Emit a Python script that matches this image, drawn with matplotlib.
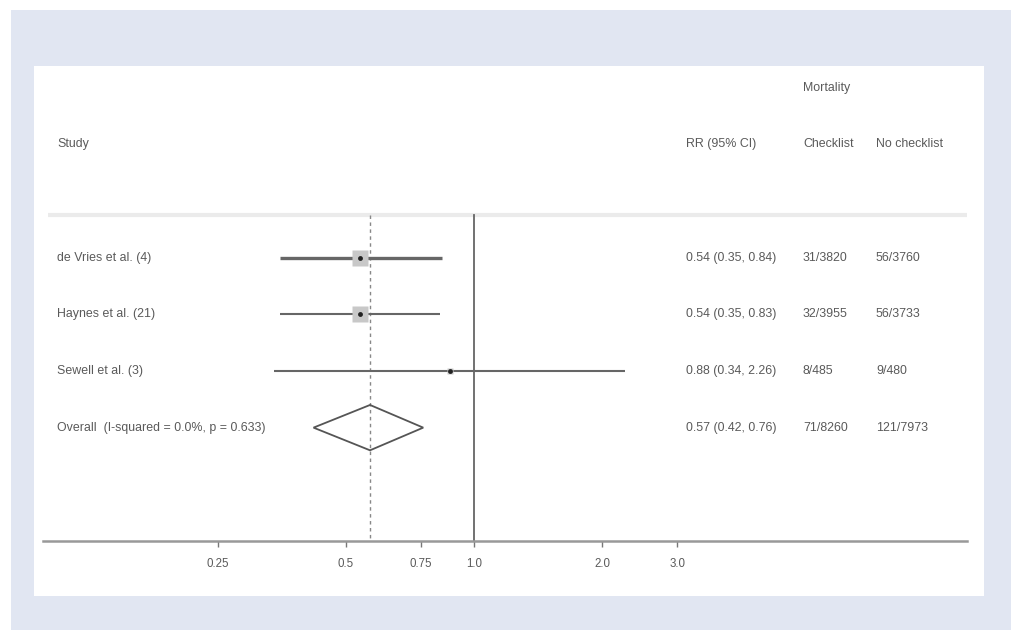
import matplotlib.pyplot as plt
from matplotlib.patches import Polygon, Rectangle

plt.rcParams['font.family'] = ['Liberation Sans', 'DejaVu Sans']

# data
studies = ['de Vries et al. (4)', 'Haynes et al. (21)', 'Sewell et al. (3)']
rr = [0.54, 0.54, 0.88]
lo = [0.35, 0.35, 0.34]
hi = [0.84, 0.83, 2.26]
weights = [46.5, 45.9, 7.6]
checklist = ['31/3820', '32/3955', '8/485']
no_checklist = ['56/3760', '56/3733', '9/480']

overall_label = 'Overall  (I-squared = 0.0%, p = 0.633)'
overall_rr, overall_lo, overall_hi = 0.57, 0.42, 0.76
overall_checklist = '71/8260'
overall_no_checklist = '121/7973'

ticks = [0.25, 0.5, 0.75, 1.0, 2.0, 3.0]
tick_labels = ['0.25', '0.5', '0.75', '1.0', '2.0', '3.0']

W, H = 1011, 630
fig = plt.figure(figsize=(W / 100, H / 100), dpi=100)
fig.patch.set_facecolor('white')
# light blue frame + white panel (like the stata graph region)
fig.patches.append(Rectangle((11 / W, 0), 1 - 11 / W, 1 - 10 / H, transform=fig.transFigure,
                             facecolor='#e1e6f2', edgecolor='none', zorder=-2))
fig.patches.append(Rectangle((34 / W, 34 / H), 950 / W, 530 / H, transform=fig.transFigure,
                             facecolor='white', edgecolor='none', zorder=-1))

ax = fig.add_axes([43 / W, 89 / H, 924 / W, 475 / H])
ax.set_facecolor('none')
ax.set_xscale('log')
ax.set_xlim(0.0973, 14.37)
ax.set_ylim(5, -3.38)

txt = '#5a5a5a'
fs = 8.9
col_study, col_rr, col_chk, col_nochk = 0.0152, 0.6959, 0.8225, 0.9015
tr = ax.get_yaxis_transform()  # x in axes fraction, y in data

# headers
ax.text(col_chk, -3, 'Mortality', transform=tr, fontsize=fs, color=txt, va='center')
ax.text(col_study, -2, 'Study', transform=tr, fontsize=fs, color=txt, va='center')
ax.text(col_rr, -2, 'RR (95% CI)', transform=tr, fontsize=fs, color=txt, va='center')
ax.text(col_chk, -2, 'Checklist', transform=tr, fontsize=fs, color=txt, va='center')
ax.text(col_nochk, -2, 'No checklist', transform=tr, fontsize=fs, color=txt, va='center')
ax.plot([0.005, 1], [-0.75, -0.75], transform=tr, color='#ebebeb', lw=3, solid_capstyle='butt')

# reference lines
ax.plot([1, 1], [-0.75, 5], color='#666666', lw=1.3)
ax.plot([overall_rr, overall_rr], [-0.75, 5], color='#888888', lw=1, dashes=(2.5, 2.5))

for i, name in enumerate(studies):
    lw = 2.4 if i == 0 else 1.5
    ax.plot([lo[i], hi[i]], [i, i], color='#666666', lw=lw, solid_capstyle='butt', zorder=2)
    ax.plot(rr[i], i, marker='s', ms=1.7 * weights[i] ** 0.5, color='#c8c8c8', mec='none', zorder=3)
    ax.plot(rr[i], i, marker='o', ms=3.5, color='#222222', mec='none', zorder=4)
    ax.text(col_study, i, name, transform=tr, fontsize=fs, color=txt, va='center')
    ax.text(col_rr, i, f'{rr[i]:.2f} ({lo[i]:.2f}, {hi[i]:.2f})', transform=tr,
            fontsize=fs, color=txt, va='center')
    ax.text(col_chk, i, checklist[i], transform=tr, fontsize=fs, color=txt, va='center')
    ax.text(col_nochk, i, no_checklist[i], transform=tr, fontsize=fs, color=txt, va='center')

# overall diamond
yo = len(studies)
ax.add_patch(Polygon([(overall_lo, yo), (overall_rr, yo - 0.4), (overall_hi, yo), (overall_rr, yo + 0.4)],
                     closed=True, fill=False, edgecolor='#555555', lw=1.3, zorder=3))
ax.text(col_study, yo, overall_label, transform=tr, fontsize=fs, color=txt, va='center')
ax.text(col_rr, yo, f'{overall_rr:.2f} ({overall_lo:.2f}, {overall_hi:.2f})', transform=tr,
        fontsize=fs, color=txt, va='center')
ax.text(col_chk, yo, overall_checklist, transform=tr, fontsize=fs, color=txt, va='center')
ax.text(col_nochk, yo, overall_no_checklist, transform=tr, fontsize=fs, color=txt, va='center')

# axes styling
for s in ['top', 'right', 'left']:
    ax.spines[s].set_visible(False)
ax.spines['bottom'].set_color('#999999')
ax.spines['bottom'].set_linewidth(1.8)
ax.set_yticks([])
ax.set_xticks(ticks)
ax.set_xticklabels(tick_labels)
ax.xaxis.set_minor_locator(plt.NullLocator())
ax.tick_params(axis='x', length=4, width=1, color='#777777', labelsize=8.3, labelcolor=txt, pad=8)

fig.savefig('out.png', dpi=100)
